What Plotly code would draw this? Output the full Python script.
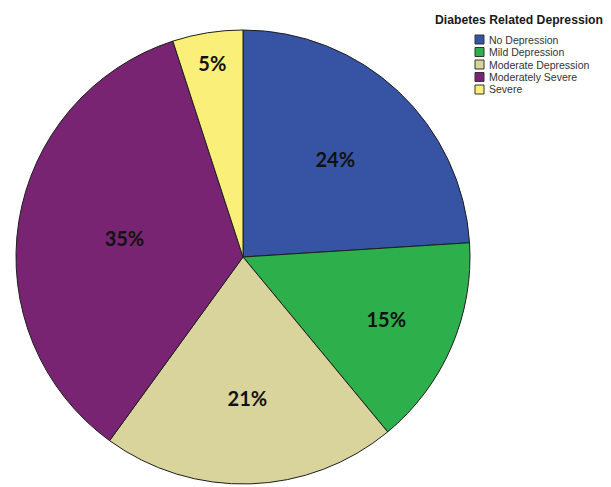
import plotly.graph_objects as go

# Diabetes related depression categories and their shares (%)
categories = ["No Depression", "Mild Depression", "Moderate Depression",
              "Moderately Severe", "Severe"]
shares = [24, 15, 21, 35, 5]
colors = ["#3754A4", "#2DB04B", "#D9D49B", "#782473", "#FAEF78"]

legend_title = "Diabetes Related Depression"

fig = go.Figure()
fig.add_trace(go.Pie(
    labels=categories,
    values=shares,
    sort=False,
    direction="clockwise",
    rotation=0,
    marker=dict(colors=colors, line=dict(color="#1e1e1e", width=1)),
    textinfo="percent",
    texttemplate="<b>%{percent:.0%}</b>",
    textposition="inside",
    insidetextorientation="horizontal",
    textfont=dict(family="Lato, Arial, sans-serif", size=20, color="#111111"),
    domain=dict(x=[16 / 611, 470 / 611], y=[3 / 487, 457 / 487]),
    showlegend=False,
    hoverinfo="label+percent",
))

# Compact legend: title, then colour swatch + category name per row
annotations = [dict(
    text="<b>%s</b>" % legend_title, x=605 / 611, y=1 - 20 / 487,
    xref="paper", yref="paper", xanchor="right", yanchor="middle",
    showarrow=False,
    font=dict(family="Liberation Sans, Arial", size=12.2, color="#1a1a1a"),
)]
shapes = []
row0, step = 39.5, 12.5
for i, (name, col) in enumerate(zip(categories, colors)):
    yc = row0 + i * step
    shapes.append(dict(
        type="rect", xref="paper", yref="paper",
        x0=475 / 611, x1=484 / 611,
        y0=1 - (yc + 4.5) / 487, y1=1 - (yc - 4.5) / 487,
        fillcolor=col, line=dict(color="#333333", width=1),
    ))
    annotations.append(dict(
        text=name, x=487 / 611, y=1 - yc / 487,
        xref="paper", yref="paper", xanchor="left", yanchor="middle",
        showarrow=False,
        font=dict(family="Liberation Sans, Arial", size=10.5, color="#333333"),
    ))

fig.update_layout(
    width=611, height=487,
    margin=dict(l=0, r=0, t=0, b=0),
    paper_bgcolor="white",
    plot_bgcolor="white",
    uniformtext=dict(minsize=20, mode="show"),
    annotations=annotations,
    shapes=shapes,
)

fig.write_html("out.html")
